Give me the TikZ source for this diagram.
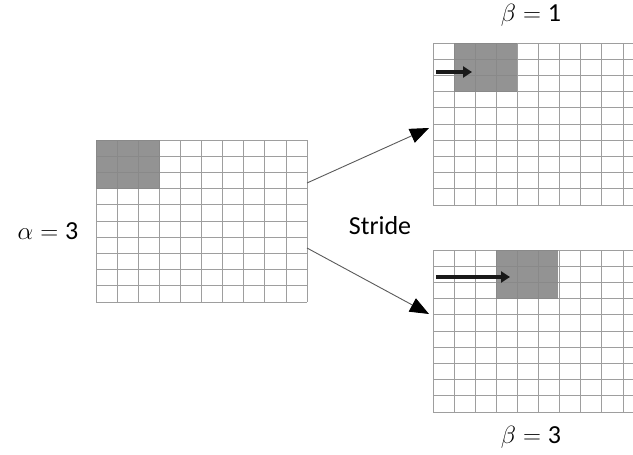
\documentclass[tikz,border=0pt]{standalone}
\usepackage{fontspec}
\setmainfont{Carlito}
\usetikzlibrary{arrows.meta, positioning}

\begin{document}
\begin{tikzpicture}[
  x=1pt, y=-1pt,
  font=\fontsize{26}{31}\selectfont,
  grille/.style={
    draw=black!38,
    line width=0.8pt
  },
  fenetre/.style={
    fill=black!47,
    fill opacity=0.9,
    draw=none
  },
  lien/.style={
    -{Triangle[length=19pt, width=15pt, color=black]},
    line width=0.9pt,
    draw=black!65
  },
  glisse/.style={
    -{Triangle[length=9pt, width=11pt]},
    line width=3.6pt,
    draw=black!90
  }
]
  \clip (0,0) rectangle (633,455);

  % Grille d'entree
  \foreach \i in {0,...,10} {
    \draw[grille] ({96+21.1*\i},140) -- ({96+21.1*\i},302);
    \draw[grille] (96,{140+16.2*\i}) -- (307,{140+16.2*\i});
  }

  % Grilles de sortie
  \foreach \y in {43,250} {
    \foreach \i in {0,...,10} {
      \draw[grille] ({433+21.1*\i},\y) -- ({433+21.1*\i},{\y+162});
      \draw[grille] (433,{\y+16.2*\i}) -- (644,{\y+16.2*\i});
    }
  }

  % Fenetres grises (3x3)
  \fill[fenetre] (96,140) rectangle (160,189);
  \fill[fenetre] (454,43) rectangle (517,92);
  \fill[fenetre] (496,250) rectangle (558,299);

  % Etiquettes
  \node (alpha) at (48,231) {$\alpha = \mbox{3}$};
  \node (stride) at (380,226) {Stride};
  \node (beta1) at (531,15) {$\beta = \mbox{1}$};
  \node (beta3) at (531,437) {$\beta = \mbox{3}$};

  % Points d'attache
  \coordinate (depart1) at (307,183);
  \coordinate (arrivee1) at (429,128);
  \coordinate (depart2) at (307,248);
  \coordinate (arrivee2) at (429,314);
  \coordinate (g1) at (436,72);
  \coordinate (d1) at (472,72);
  \coordinate (g3) at (436,277);
  \coordinate (d3) at (510,277);

  % Fleches
  \draw[lien] (depart1) -- (arrivee1);
  \draw[lien] (depart2) -- (arrivee2);
  \draw[glisse] (g1) -- (d1);
  \draw[glisse] (g3) -- (d3);
\end{tikzpicture}
\end{document}
